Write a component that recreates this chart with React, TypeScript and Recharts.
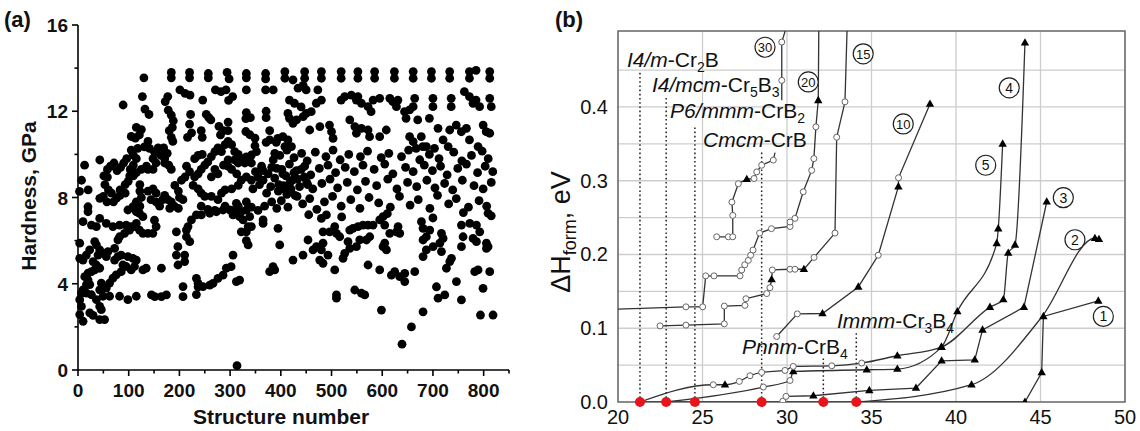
import React from "react";
import {
  ScatterChart,
  Scatter,
  ComposedChart,
  Line,
  XAxis,
  YAxis,
  CartesianGrid,
  ReferenceLine,
  ReferenceDot,
  ReferenceArea,
} from "recharts";

const FONT = "'Liberation Sans', Arial, sans-serif";

// ---------- (a) hardness vs structure number ----------
const hardTopRow: [number, number][] = [
  [130, 13.55], [184, 13.8], [184, 13.55], [220, 13.8], [220, 13.55], [257, 13.75], [257, 13.55],
  [294, 13.8], [298, 13.5], [332, 13.75], [332, 13.55], [370, 13.75], [370, 13.5],
  [408, 13.84], [408, 13.53], [447, 13.84], [447, 13.53], [480, 13.84], [480, 13.53], [519, 13.84], [519, 13.53],
  [552, 13.84], [552, 13.53], [585, 13.84], [585, 13.53], [624, 13.84], [624, 13.53], [661, 13.84], [661, 13.53],
  [697, 13.84], [697, 13.53], [733, 13.84], [733, 13.53], [772, 13.84], [772, 13.53], [785, 13.9], [812, 13.84], [812, 13.53],
];

const hardLeft: [number, number][] = [
  [89, 12.29], [127, 12.68], [132, 12.1], [140, 11.85], [172, 12.45], [177, 12.68], [178, 12.05], [184, 11.82],
  [188, 11.56], [186, 11.25], [180, 11.1], [184, 10.79], [187, 10.6], [105, 10.83], [113, 10.75], [121, 10.9],
  [105, 10.2], [118, 10.28], [131, 10.35], [141, 10.28], [138, 10.6], [125, 11.15], [115, 11.25], [151, 10.1],
  [158, 10.3], [164, 9.95], [169, 10.3], [171, 9.8], [176, 10.05], [171, 9.6], [179, 9.5], [184, 9.3], [148, 9.8],
  [154, 9.6], [135, 9.45], [125, 9.3], [138, 9.3], [148, 9.3], [96, 9.8], [90, 9.6], [84, 9.4], [77, 9.25],
  [71, 9.6], [64, 9.45], [58, 9.3], [51, 9.0], [58, 8.95], [109, 9.97], [115, 9.8], [109, 9.5], [103, 9.3],
  [115, 9.15], [109, 9.0], [43, 9.74], [13, 9.5], [7, 8.8], [20, 8.35], [3, 8.28], [53, 8.6], [60, 8.35], [66, 8.2],
  [50, 8.05], [43, 7.96], [57, 7.8], [70, 7.8], [76, 7.97], [83, 8.1], [93, 8.2], [83, 8.35], [93, 8.6], [99, 8.75],
  [102, 9.0], [122, 8.6], [122, 8.3], [125, 8.0], [115, 7.8], [122, 7.6], [138, 8.3], [148, 8.4], [154, 8.2],
  [144, 7.9], [154, 7.8], [161, 7.6], [167, 7.9], [171, 8.1], [177, 7.9], [184, 7.8], [190, 7.6], [181, 7.5],
  [19.7, 7.57], [19.7, 7.34], [42.8, 7.03], [36.3, 6.65], [26.5, 6.72], [9.9, 6.88], [3.4, 5.88], [3.4, 5.18],
  [9.9, 5.1], [16.4, 5.33], [23, 5.57], [33, 5.95], [36.3, 5.8], [42.8, 5.57], [39.5, 5.33], [49.3, 5.41],
  [55.8, 5.26], [59.1, 5.49], [29.8, 5.03], [36.3, 4.87], [42.8, 4.72], [33, 4.64], [26.5, 4.56], [19.9, 4.49],
  [13.3, 4.33], [19.9, 4.17], [23.2, 3.96], [16.6, 3.96], [10, 3.72], [6.7, 3.57], [16.6, 3.57], [26.5, 3.49],
  [3.4, 3.26], [6.7, 2.95], [3.4, 2.57], [10, 2.26], [23.2, 2.65], [29.8, 2.53], [42.8, 2.95], [46, 2.8],
  [42.8, 2.34], [52.5, 2.34], [36.3, 3.26], [49.3, 3.42], [42.8, 3.72], [55.8, 3.8], [46, 4.03], [62.3, 4.03],
  [68.9, 4.26], [75.4, 4.41], [85.2, 4.56], [88.5, 4.87], [95, 4.8], [104.9, 4.64], [111.4, 4.8], [62.3, 3.42],
  [82, 3.42], [98.4, 3.26], [115, 3.42], [72.2, 5.1], [78.7, 5.26], [85.2, 5.33], [98.4, 5.26], [108.2, 5.18],
  [115, 5.1], [128, 4.64], [134.5, 4.72], [72.2, 5.64], [78.7, 6.03], [82, 6.18], [91.8, 6.34], [101.7, 6.49],
  [111.4, 6.65], [115, 6.8], [55.8, 6.8], [68.9, 6.65], [82, 6.72], [95, 6.72], [104.9, 6.65], [121.3, 6.49],
  [128, 6.34], [137.8, 6.34], [147.6, 6.34], [154.1, 6.65], [150.8, 6.95], [128, 7.11], [121.3, 7.26], [115, 7.34],
  [108.2, 7.57], [98.4, 7.42], [164.5, 4.72], [197.2, 4.87], [164.5, 3.4], [174.4, 3.48], [151.5, 3.4], [144.9, 3.48],
];

const hardCentre: [number, number][] = [
  [201, 12.99], [211, 12.83], [221, 12.75], [246, 12.52], [253, 11.85], [258, 11.7], [262, 11.6], [271, 12.99],
  [282, 12.91], [292, 12.99], [297, 12.5], [305, 12.68], [296, 11.1], [296, 11.5], [332, 12.99], [332, 11.94],
  [340, 11.7], [331, 11.66], [331, 11.06], [339, 10.91], [349, 10.75], [349, 10.4], [371, 10.56], [370, 12.99],
  [385, 12.99], [371, 12.0], [371, 11.7], [378, 11.1], [391, 10.56], [220, 11.4], [224, 11.0], [216, 10.79],
  [222, 11.85], [278, 11.3], [287, 11.1], [281, 10.9], [243, 11.1], [245, 10.79], [198, 7.5], [200, 8.0],
  [207, 7.9], [198, 8.3], [191, 8.56], [204, 8.8], [211, 8.95], [220, 9.2], [214, 9.45], [230, 9.8], [237, 9.95],
  [245, 10.0], [230, 8.96], [237, 9.1], [243, 9.3], [250, 9.5], [256, 9.65], [263, 9.9], [270, 10.13], [276, 10.3],
  [283, 10.13], [290, 10.45], [296, 10.6], [303, 10.45], [309, 10.13], [316, 10.0], [322, 9.8], [332, 9.88],
  [342, 9.97], [352, 10.13], [227, 8.56], [237, 8.4], [243, 8.2], [250, 8.05], [263, 8.05], [276, 7.9], [283, 8.2],
  [290, 8.35], [303, 8.4], [316, 8.56], [322, 8.8], [313, 9.1], [303, 9.3], [296, 9.45], [270, 9.3], [263, 8.96],
  [276, 9.1], [332, 8.96], [342, 8.8], [355, 8.96], [365, 8.8], [375, 9.1], [382, 9.4], [385, 9.74], [388, 10.05],
  [362, 9.45], [342, 9.6], [329, 9.6], [316, 9.6], [309, 9.74], [296, 9.74], [287, 9.5], [243, 7.6], [256, 7.45],
  [270, 7.4], [290, 7.6], [303, 7.4], [316, 7.6], [332, 7.8], [342, 7.55], [355, 7.4], [368, 7.6], [382, 7.8],
  [392, 7.5], [210.4, 5.33], [194, 5.33], [210.4, 5.03], [197, 5.72], [194, 6.41], [213.8, 6.49], [217, 6.65],
  [223.7, 6.96], [233.5, 7.19], [243.3, 7.19], [259.8, 7.27], [272.9, 7.34], [286, 7.42], [299.2, 7.42],
  [305.7, 7.19], [312.3, 7.27], [318.8, 7.11], [332, 7.42], [338.6, 7.11], [341.9, 6.65], [213.8, 6.18],
  [220.4, 5.95], [233.5, 4.25], [236.8, 4.02], [236.8, 3.86], [233.5, 3.5], [207.1, 3.4], [207.1, 3.87],
  [246.5, 3.87], [259.8, 3.94], [266.3, 4.02], [276, 4.25], [286, 4.4], [292.5, 4.72], [302, 4.79], [312.3, 4.1],
  [318.8, 4.17], [305.7, 5.33], [322, 7.34], [325.6, 6.96], [322, 6.41], [332, 6.41], [335.6, 6.65], [332, 6.0],
  [335.6, 5.8], [315.6, 7.57], [312.3, 7.73], [313.6, 0.2], [365, 6.96], [365, 6.8], [378, 4.56], [384.6, 4.79],
  [388, 4.64], [397.8, 5.8], [394.5, 6.57],
  [350, 9.2], [345, 8.4], [358, 8.6], [365, 9.25], [372, 8.2], [380, 8.5], [388, 8.9], [395, 8.3],
];

const hardRight: [number, number][] = [
  [424, 13.45], [444, 13.2], [450, 12.99], [434, 13.07], [473, 12.99], [480, 12.52], [470, 12.37], [460, 11.98],
  [450, 11.9], [444, 11.75], [440, 12.2], [417, 12.52], [427, 12.37], [414, 11.9], [417, 11.67], [431, 11.6],
  [424, 11.44], [519, 12.52], [526, 12.68], [539, 12.75], [552, 12.68], [549, 12.52], [559, 12.37], [572, 12.21],
  [578, 11.98], [582, 12.52], [595, 12.6], [615, 12.6], [621, 12.44], [631, 12.52], [628, 12.21], [644, 11.98],
  [654, 12.06], [661, 12.21], [664, 12.6], [647, 11.67], [670, 11.6], [693, 11.67], [700, 12.6], [700, 12.21],
  [736, 12.6], [736, 12.21], [762, 12.91], [772, 12.68], [779, 12.37], [785, 12.52], [792, 12.21], [812, 12.6],
  [815, 12.21], [457, 11.13], [477, 11.29], [496, 11.36], [500, 11.05], [503, 10.74], [536, 11.6], [546, 11.29],
  [549, 10.98], [559, 11.21], [572, 11.13], [575, 10.82], [595, 10.82], [608, 11.13], [654, 10.82], [661, 10.59],
  [677, 10.82], [680, 10.36], [667, 10.28], [687, 10.36], [703, 10.28], [720, 10.67], [710, 11.21], [733, 11.13],
  [746, 11.36], [756, 11.05], [766, 11.21], [772, 10.67], [789, 10.36], [799, 11.36], [805, 11.05], [812, 10.98],
  [730, 10.36], [378, 10.67], [394, 10.74], [404, 10.82], [414, 10.67], [421, 10.36], [408, 10.36],
  [398, 9.95], [412, 10.2], [426, 9.85], [441, 10.05], [452, 9.7], [468, 10.1], [489, 9.9], [503, 10.2], [517, 9.75],
  [534, 10.0], [557, 9.9], [571, 10.15], [598, 9.85], [613, 10.05], [638, 9.9], [652, 10.2], [674, 9.75], [693, 10.0],
  [712, 9.8], [741, 10.1], [757, 9.7], [776, 9.95], [797, 10.15], [809, 9.8],
  [402, 9.3], [410, 9.0], [418, 8.7], [426, 9.15], [433, 8.85], [440, 9.3], [446, 8.95], [453, 8.6], [405, 8.55],
  [412, 8.15], [420, 8.4], [432, 8.05],
  [392, 9.35], [404, 9.1], [417, 9.55], [431, 9.25], [447, 9.45], [459, 9.05], [476, 9.35], [493, 9.5], [508, 9.15],
  [527, 9.4], [545, 9.2], [562, 9.5], [584, 9.3], [605, 9.55], [621, 9.1], [646, 9.4], [661, 9.2], [683, 9.5],
  [699, 9.25], [715, 9.45], [728, 9.05], [749, 9.35], [766, 9.55], [788, 9.15], [803, 9.45], [818, 9.2],
  [396, 8.6], [409, 8.35], [423, 8.8], [437, 8.5], [451, 8.7], [463, 8.4], [481, 8.65], [497, 8.85], [512, 8.45],
  [531, 8.7], [551, 8.35], [567, 8.75], [589, 8.55], [611, 8.85], [629, 8.4], [650, 8.7], [668, 8.5], [688, 8.8],
  [704, 8.45], [723, 8.65], [739, 8.35], [758, 8.8], [781, 8.55], [799, 8.4], [815, 8.7],
  [401, 7.85], [414, 7.55], [428, 8.1], [443, 7.7], [457, 7.95], [471, 7.45], [486, 7.8], [502, 8.05], [519, 7.6],
  [538, 7.9], [556, 7.5], [574, 8.0], [593, 7.75], [616, 7.55], [634, 8.05], [655, 7.65], [671, 7.9], [694, 7.5],
  [709, 8.1], [731, 7.7], [746, 7.95], [770, 7.55], [791, 7.85], [806, 7.6],
  [455, 7.2], [520, 7.1], [610, 7.25], [700, 7.05], [760, 7.3], [815, 7.15],
  [424, 5.1], [443.8, 5.33], [453.6, 6.03], [463.5, 5.57], [470.2, 5.72], [480, 5.57], [483.2, 5.88], [493, 5.33],
  [476.7, 5.1], [483.2, 4.95], [483.2, 6.41], [496.4, 6.41], [480, 7.03], [489.9, 7.19], [506.3, 6.65], [509.7, 6.34],
  [516.2, 6.18], [506.3, 4.64], [509.7, 3.48], [509.7, 3.33], [522.7, 5.18], [526, 5.41], [532.5, 5.95], [535.9, 6.49],
  [542.4, 6.57], [552.3, 6.65], [562.1, 6.72], [571.9, 6.72], [581.8, 6.72], [535.9, 5.64], [549.1, 5.72], [555.7, 6.03],
  [568.8, 6.03], [575.3, 6.18], [545.8, 3.71], [559, 3.56], [565.5, 3.48], [572, 4.87], [595, 4.64], [598.4, 2.78],
  [601.6, 5.72], [608.3, 5.57], [604.9, 5.88], [595, 6.96], [601.6, 7.11], [604.9, 6.72], [614.8, 6.34], [628, 6.41],
  [634.5, 6.34], [631.2, 6.65], [618.1, 4.4], [624.6, 4.56], [634.5, 4.33], [644.4, 4.48], [644.4, 4.1], [664.1, 4.56],
  [657.6, 2.0], [639, 1.2], [680.5, 2.7], [680.5, 5.26], [687, 5.57], [680.5, 6.03], [687, 6.18], [680.5, 6.57],
  [677.3, 6.88], [693.7, 6.49], [700.3, 5.72], [713.5, 5.88], [720, 6.1], [716.8, 5.49], [716.8, 6.34], [706.9, 3.86],
  [710.1, 3.33], [723.3, 3.48], [726.6, 4.72], [736.5, 5.18], [733.2, 5.03], [746.3, 4.1], [756.2, 3.25], [756.2, 5.72],
  [759.4, 6.18], [756.2, 6.72], [772.6, 6.8], [779.1, 6.1], [785.8, 5.95], [782.4, 4.56], [789, 4.64], [785.8, 6.72],
  [792.3, 6.41], [805.5, 5.88], [808.7, 5.72], [805.5, 5.64], [808.7, 7.27], [812, 4.56], [798.8, 3.79], [793.7, 2.55],
  [818.5, 2.55],
];

const structTicks = [0, 50, 100, 150, 200, 250, 300, 350, 400, 450, 500, 550, 600, 650, 700, 750, 800, 850];
const hardTicks = [0, 2, 4, 6, 8, 10, 12, 14, 16];

// ---------- (b) formation enthalpy curves ----------
// [x, dH (eV), marker: o = open circle, t = triangle, "" = none]
type Pt = [number, number, string];

const curve1: Pt[] = [[44.08, 0, "t"], [45.07, 0.04, "t"], [45.17, 0.116, "t"], [48.42, 0.137, "t"]];
const curve2: Pt[] = [[34.12, 0, ""], [40.92, 0.0234, "t"], [45.1, 0.116, ""], [48.22, 0.222, "t"], [48.46, 0.2206, "t"]];
const curve3: Pt[] = [
  [29.75, 0.001, "o"], [29.94, 0.0076, "o"], [31.56, 0.0085, "t"], [34.87, 0.0157, "t"], [37.63, 0.0189, "t"],
  [39.15, 0.0559, "t"], [41.11, 0.0572, "t"], [41.57, 0.0978, "t"], [44.02, 0.1286, "t"], [45.37, 0.2715, "t"],
];
const curve4: Pt[] = [
  [21.3, 0, ""], [25.64, 0.0234, "o"], [26.33, 0.0234, "t"], [27.18, 0.0279, "o"], [27.81, 0.0356, "o"],
  [28.5, 0.0401, "o"], [29.88, 0.0428, "o"], [30.37, 0.0482, "o"], [32.65, 0.0491, "o"], [34.42, 0.0528, "o"],
  [36.53, 0.0627, "t"], [39.14, 0.0744, "t"], [42.01, 0.1286, "t"], [42.8, 0.139, "t"], [43.09, 0.202, "t"],
  [43.49, 0.213, "t"], [44.08, 0.487, "t"],
];
const curve5: Pt[] = [
  [22.84, 0, ""], [28.6, 0.0203, "o"], [30.18, 0.0292, "o"], [30.37, 0.0414, "t"], [34.72, 0.0437, "t"],
  [36.53, 0.0447, "t"], [39.14, 0.0744, "t"], [40.08, 0.1226, "t"], [42.41, 0.215, "t"], [42.5, 0.235, "t"],
  [42.76, 0.35, "t"],
];
const curve10: Pt[] = [
  [29.39, 0.0888, "o"], [30.61, 0.1195, "o"], [32.1, 0.12, "t"], [34.22, 0.156, "t"], [35.4, 0.199, "o"],
  [36.59, 0.292, "t"], [36.6, 0.304, "o"], [38.46, 0.404, "t"],
];
const curve15: Pt[] = [
  [22.49, 0.1032, "o"], [24.02, 0.1042, "o"], [26.29, 0.106, "o"], [26.29, 0.13, "o"], [27.51, 0.131, "o"],
  [27.57, 0.14, "o"], [28.8, 0.147, "o"], [28.99, 0.155, "o"], [29.09, 0.166, "t"], [29.13, 0.179, "o"],
  [30.18, 0.18, "o"], [30.47, 0.18, "o"], [31.0, 0.18, "t"], [31.6, 0.196, "o"], [32.84, 0.229, "o"],
  [32.94, 0.359, "o"], [33.43, 0.407, "o"], [33.55, 0.502, ""], [33.56, 0.55, ""],
];
const curve20: Pt[] = [
  [20, 0.126, ""], [24.02, 0.129, "o"], [25.01, 0.129, "o"], [25.19, 0.171, "o"], [25.68, 0.171, "o"],
  [27.22, 0.171, "o"], [27.32, 0.179, "o"], [27.5, 0.186, "o"], [27.71, 0.192, "o"], [27.85, 0.199, "o"],
  [27.99, 0.206, "o"], [28.38, 0.229, "o"], [29.08, 0.235, "o"], [30.18, 0.238, "o"], [30.18, 0.244, "o"],
  [30.47, 0.249, "o"], [30.96, 0.285, "o"], [31.46, 0.314, "o"], [31.59, 0.33, "o"], [31.71, 0.373, "o"],
  [31.85, 0.409, "t"], [31.88, 0.502, ""], [31.9, 0.55, ""],
];
const curve30Low: Pt[] = [
  [25.84, 0.224, "o"], [26.53, 0.224, "o"], [26.79, 0.224, "o"], [26.79, 0.253, "o"], [26.74, 0.271, "o"],
  [27.12, 0.296, "o"], [27.62, 0.302, "t"], [28.05, 0.303, "o"], [28.21, 0.312, "o"], [28.5, 0.321, "o"],
  [29.19, 0.328, "o"], [29.29, 0.338, ""],
];
const curve30High: Pt[] = [[29.69, 0.409, ""], [29.69, 0.436, "o"], [29.69, 0.488, "o"], [29.88, 0.502, ""], [29.9, 0.55, ""]];
const hullLine: Pt[] = [[21.3, 0, ""], [44.08, 0, ""]];

const stableX = [21.3, 22.85, 24.55, 28.5, 32.15, 34.1];
const stableTop = [0.447, 0.413, 0.373, 0.339, 0.062, 0.094];

const compTicks = [20, 25, 30, 35, 40, 45, 50];
const enTicks = [0, 0.05, 0.1, 0.15, 0.2, 0.25, 0.3, 0.35, 0.4, 0.45];

// phase labels: [text, style] pieces; i = italic, s = subscript
const phaseLabels = [
  { x: 20.53, y: 0.454, parts: [["I4/m", "i"], ["-Cr", ""], ["2", "s"], ["B", ""]] },
  { x: 22.01, y: 0.42, parts: [["I4/mcm", "i"], ["-Cr", ""], ["5", "s"], ["B", ""], ["3", "s"]] },
  { x: 23.08, y: 0.385, parts: [["P6/mmm", "i"], ["-CrB", ""], ["2", "s"]] },
  { x: 25.03, y: 0.346, parts: [["Cmcm", "i"], ["-CrB", ""]] },
  { x: 27.34, y: 0.0654, parts: [["Pnnm", "i"], ["-CrB", ""], ["4", "s"]] },
  { x: 32.96, y: 0.1005, parts: [["Immm", "i"], ["-Cr", ""], ["3", "s"], ["B", ""], ["4", "s"]] },
];

const curveTags = [
  { n: "30", x: 28.7, y: 0.481 },
  { n: "20", x: 31.26, y: 0.434 },
  { n: "15", x: 34.51, y: 0.472 },
  { n: "10", x: 36.88, y: 0.377 },
  { n: "4", x: 43.15, y: 0.426 },
  { n: "5", x: 41.76, y: 0.321 },
  { n: "3", x: 46.35, y: 0.277 },
  { n: "2", x: 47.04, y: 0.22 },
  { n: "1", x: 48.72, y: 0.116 },
];

const rowsXY = (a: [number, number][]) => a.map(([x, y]) => ({ x, y }));
const rows = (a: Pt[]) => a.map(([x, y, m]) => ({ x, y, m }));

// ---------- helpers ----------
const HardYTick = (props: any) => {
  const { x, y, payload } = props;
  const major = payload.value % 4 === 0;
  return (
    <g>
      <line x1={x} x2={x - (major ? 6 : 3.5)} y1={y} y2={y} stroke="#000" strokeWidth={1.6} />
      {major && (
        <text x={x - 10} y={y + 7} textAnchor="end" fontSize={19} fontWeight="bold" fontFamily={FONT} fill="#111">
          {payload.value}
        </text>
      )}
    </g>
  );
};

const StructXTick = (props: any) => {
  const { x, y, payload } = props;
  const major = payload.value % 100 === 0;
  return (
    <g>
      <line x1={x} x2={x} y1={y} y2={y + (major ? 6 : 3.5)} stroke="#000" strokeWidth={1.6} />
      {major && payload.value <= 800 && (
        <text x={x} y={y + 27} textAnchor="middle" fontSize={19} fontWeight="bold" fontFamily={FONT} fill="#111">
          {payload.value}
        </text>
      )}
    </g>
  );
};

const EnYTick = (props: any) => {
  const { x, y, payload } = props;
  const v = payload.value;
  if (Math.abs(v * 10 - Math.round(v * 10)) > 1e-6) return <g />;
  return (
    <text x={x - 10} y={y + 7} textAnchor="end" fontSize={20} fontFamily={FONT} fill="#111">
      {v.toFixed(1)}
    </text>
  );
};

const CompXTick = (props: any) => {
  const { x, y, payload } = props;
  return (
    <text x={x} y={y + 22} textAnchor="middle" fontSize={20} fontFamily={FONT} fill="#111">
      {payload.value}
    </text>
  );
};

const dotShape = (p: any) => <circle cx={p.cx} cy={p.cy} r={4.4} fill="#000" />;

const marker = (props: any) => {
  const { cx, cy, payload, index } = props;
  const k = `m${index}`;
  if (payload.m === "t")
    return <path key={k} d={`M${cx},${cy - 4.6}L${cx + 4.2},${cy + 2.8}L${cx - 4.2},${cy + 2.8}Z`} fill="#000" />;
  if (payload.m === "o")
    return <circle key={k} cx={cx} cy={cy} r={3} fill="#fff" stroke="#666" strokeWidth={1} />;
  return <g key={k} />;
};

const PhaseText = ({ cx, cy, parts }: any) => {
  let shifted = false;
  return (
    <text x={cx} y={cy} fontSize={21} fontFamily={FONT} fill="#111">
      {parts.map(([t, s]: [string, string], i: number) => {
        let dy = 0;
        if (s === "s" && !shifted) { dy = 5; shifted = true; }
        else if (s !== "s" && shifted) { dy = -5; shifted = false; }
        return (
          <tspan key={i} dy={dy} fontStyle={s === "i" ? "italic" : "normal"} fontSize={s === "s" ? 14 : 21}>
            {t}
          </tspan>
        );
      })}
    </text>
  );
};

const Tag = ({ cx, cy, n }: any) => (
  <g>
    <circle cx={cx} cy={cy} r={10} fill="#fff" stroke="#222" strokeWidth={1.2} />
    <text x={cx} y={cy + 5} textAnchor="middle" fontSize={n.length > 1 ? 13 : 14} fontFamily={FONT} fill="#111">
      {n}
    </text>
  </g>
);

const curveDefs = [
  { key: "c30l", data: curve30Low, type: "linear" },
  { key: "c30h", data: curve30High, type: "linear" },
  { key: "c20", data: curve20, type: "linear" },
  { key: "c15", data: curve15, type: "linear" },
  { key: "c10", data: curve10, type: "linear" },
  { key: "c5", data: curve5, type: "monotone" },
  { key: "c4", data: curve4, type: "monotone" },
  { key: "c3", data: curve3, type: "linear" },
  { key: "c2", data: curve2, type: "monotone" },
  { key: "c1", data: curve1, type: "linear" },
  { key: "hull", data: hullLine, type: "linear" },
];

export default function App() {
  return (
    <div style={{ position: "absolute", left: 0, top: 0, width: 1140, height: 431, background: "#fff" }}>
      <div style={{ position: "absolute", left: 0, top: 0 }}>
        <ScatterChart width={545} height={431} margin={{ top: 25, right: 36, bottom: 21, left: 18 }}>
          <XAxis
            type="number"
            dataKey="x"
            domain={[0, 850]}
            ticks={structTicks}
            interval={0}
            tick={<StructXTick />}
            tickLine={false}
            tickSize={0}
            tickMargin={0}
            height={40}
            axisLine={{ stroke: "#000", strokeWidth: 1.6 }}
          />
          <YAxis
            type="number"
            dataKey="y"
            domain={[0, 16]}
            ticks={hardTicks}
            interval={0}
            tick={<HardYTick />}
            tickLine={false}
            tickSize={0}
            tickMargin={0}
            width={60}
            axisLine={{ stroke: "#000", strokeWidth: 1.6 }}
          />
          {[hardTopRow, hardLeft, hardCentre, hardRight].map((a, i) => (
            <Scatter key={i} data={rowsXY(a)} shape={dotShape} isAnimationActive={false} />
          ))}
        </ScatterChart>
      </div>

      <div style={{ position: "absolute", left: 550, top: 0 }}>
        <ComposedChart width={590} height={431} margin={{ top: 31, right: 15, bottom: 4, left: 18 }}>
          <CartesianGrid stroke="#cdcdcd" strokeWidth={1.3} />
          <XAxis
            type="number"
            dataKey="x"
            domain={[20, 50]}
            ticks={compTicks}
            interval={0}
            allowDataOverflow
            tick={<CompXTick />}
            tickLine={false}
            tickSize={0}
            tickMargin={0}
            axisLine={false}
            height={25}
          />
          <YAxis
            type="number"
            domain={[0, 0.503]}
            ticks={enTicks}
            interval={0}
            allowDataOverflow
            tick={<EnYTick />}
            tickLine={false}
            tickSize={0}
            tickMargin={0}
            axisLine={false}
            width={50}
          />
          <ReferenceArea x1={20} x2={50} y1={0} y2={0.503} fill="none" fillOpacity={0} stroke="#707070" strokeWidth={1.6} />
          {stableX.map((x, i) => (
            <ReferenceLine
              key={`s${i}`}
              segment={[{ x, y: 0 }, { x, y: stableTop[i] }]}
              stroke="#222"
              strokeWidth={1.5}
              strokeDasharray="1.6 2.6"
            />
          ))}
          {curveDefs.map((c) => (
            <Line
              key={c.key}
              data={rows(c.data)}
              dataKey="y"
              type={c.type as any}
              stroke="#333"
              strokeWidth={1.3}
              dot={marker}
              activeDot={false}
              isAnimationActive={false}
            />
          ))}
          {stableX.map((x) => (
            <ReferenceDot
              key={`r${x}`}
              x={x}
              y={0}
              r={5}
              ifOverflow="visible"
              shape={(p: any) => <circle cx={p.cx} cy={p.cy} r={5} fill="#e8141a" />}
            />
          ))}
          {phaseLabels.map((l, i) => (
            <ReferenceDot key={`p${i}`} x={l.x} y={l.y} r={0} shape={(p: any) => <PhaseText cx={p.cx} cy={p.cy} parts={l.parts} />} />
          ))}
          {curveTags.map((t) => (
            <ReferenceDot key={`t${t.n}`} x={t.x} y={t.y} r={0} shape={(p: any) => <Tag cx={p.cx} cy={p.cy} n={t.n} />} />
          ))}
        </ComposedChart>
      </div>

      <svg width={1140} height={431} style={{ position: "absolute", left: 0, top: 0, pointerEvents: "none" }}>
        <text x={4} y={27} fontSize={22} fontWeight="bold" fontFamily={FONT} fill="#111">(a)</text>
        <text x={555} y={27} fontSize={22} fontWeight="bold" fontFamily={FONT} fill="#111">(b)</text>
        <text
          transform="translate(36,196) rotate(-90)"
          textAnchor="middle"
          fontSize={21}
          fontWeight="bold"
          fontFamily={FONT}
          fill="#111"
        >
          Hardness, GPa
        </text>
        <text x={281} y={424} textAnchor="middle" fontSize={21} fontWeight="bold" fontFamily={FONT} fill="#111">
          Structure number
        </text>
        <text transform="translate(570,232) rotate(-90)" textAnchor="middle" fontSize={27} fontFamily={FONT} fill="#111">
          ΔH<tspan fontSize={18} dy={6}>form</tspan>
          <tspan dy={-6}>, eV</tspan>
        </text>
      </svg>
    </div>
  );
}
